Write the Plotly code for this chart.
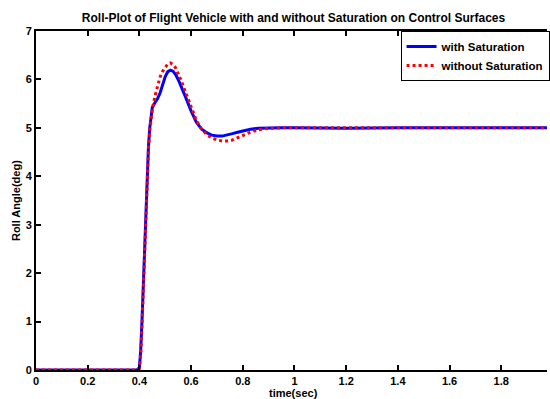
import plotly.graph_objects as go

# time samples (sec)
t_with = [0, 0.39, 0.40, 0.405, 0.41, 0.415, 0.42, 0.425, 0.43, 0.435, 0.44, 0.445,
          0.45, 0.46, 0.47, 0.48, 0.49, 0.50, 0.51, 0.52, 0.53, 0.54, 0.55, 0.56,
          0.58, 0.60, 0.62, 0.64, 0.66, 0.68, 0.70, 0.72, 0.74, 0.76, 0.78, 0.80,
          0.83, 0.86, 0.90, 0.95, 1.0, 1.1, 1.2, 1.4, 1.6, 1.8, 2.0]
roll_with = [0, 0, 0.05, 0.4, 1.0, 1.8, 2.6, 3.4, 4.1, 4.6, 5.0, 5.25,
             5.42, 5.52, 5.6, 5.72, 5.9, 6.06, 6.16, 6.19, 6.17, 6.1, 6.0, 5.88,
             5.62, 5.35, 5.12, 4.98, 4.9, 4.85, 4.83, 4.83, 4.85, 4.88, 4.91, 4.94,
             4.97, 4.99, 5.0, 5.0, 5.0, 4.99, 4.99, 5.0, 5.0, 5.0, 5.0]

t_without = [0, 0.39, 0.40, 0.405, 0.41, 0.415, 0.42, 0.425, 0.43, 0.435, 0.44, 0.445,
             0.45, 0.46, 0.47, 0.48, 0.49, 0.50, 0.51, 0.52, 0.53, 0.54, 0.55, 0.56,
             0.58, 0.60, 0.62, 0.64, 0.66, 0.68, 0.70, 0.72, 0.74, 0.76, 0.78, 0.80,
             0.83, 0.86, 0.90, 0.95, 1.0, 1.1, 1.2, 1.4, 1.6, 1.8, 2.0]
roll_without = [0, 0, 0.03, 0.3, 0.9, 1.7, 2.5, 3.3, 4.0, 4.55, 4.95, 5.2,
                5.38, 5.65, 5.88, 6.05, 6.17, 6.26, 6.32, 6.34, 6.31, 6.24, 6.13, 6.0,
                5.72, 5.42, 5.16, 4.98, 4.86, 4.79, 4.75, 4.73, 4.73, 4.75, 4.8, 4.85,
                4.91, 4.96, 4.99, 5.0, 5.0, 5.0, 5.0, 5.0, 5.0, 5.0, 5.0]

x_ticks = [0, 0.2, 0.4, 0.6, 0.8, 1.0, 1.2, 1.4, 1.6, 1.8]
x_tick_labels = ["<b>0</b>", "<b>0.2</b>", "<b>0.4</b>", "<b>0.6</b>", "<b>0.8</b>",
                 "<b>1</b>", "<b>1.2</b>", "<b>1.4</b>", "<b>1.6</b>", "<b>1.8</b>"]
y_ticks = [0, 1, 2, 3, 4, 5, 6, 7]
y_tick_labels = ["<b>%d</b>" % v for v in y_ticks]

FONT = "Liberation Sans, Arial, sans-serif"

fig = go.Figure()
fig.add_trace(go.Scatter(x=t_with, y=roll_with, mode="lines", name="<b>with Saturation</b>",
                         line=dict(color="#0000ff", width=3)))
fig.add_trace(go.Scatter(x=t_without, y=roll_without, mode="lines",
                         name="<b>without Saturation</b>",
                         line=dict(color="#ff0000", width=3, dash="dot")))

axis_common = dict(showgrid=False, zeroline=False, showline=True, linecolor="black",
                   linewidth=2, ticks="inside", ticklen=5, tickwidth=2, tickcolor="black",
                   automargin=False,
                   tickfont=dict(family=FONT, size=11, color="black"))

fig.update_layout(
    width=550, height=399,
    margin=dict(l=36, r=0, t=31, b=29),
    paper_bgcolor="white", plot_bgcolor="white",
    title=dict(text="<b>Roll-Plot of Flight Vehicle with and without Saturation on Control Surfaces</b>",
               font=dict(family=FONT, size=12, color="black"),
               x=0.504, xref="paper", xanchor="center", y=0.955, yref="container",
               yanchor="middle", automargin=False),
    xaxis=dict(range=[0, 1.977], tickvals=x_ticks, ticktext=x_tick_labels, mirror="ticks",
               **axis_common),
    yaxis=dict(range=[0, 7], tickvals=y_ticks, ticktext=y_tick_labels, mirror=False,
               **axis_common),
    # right-hand tick marks without an axis line (the frame's right edge is cropped)
    yaxis2=dict(range=[0, 7], tickvals=y_ticks, overlaying="y", side="right",
                showgrid=False, zeroline=False, showline=False, showticklabels=False,
                ticks="inside", ticklen=4, tickwidth=2, tickcolor="black", automargin=False),
    legend=dict(x=1.005, xanchor="right", y=1.0, yanchor="top",
                bgcolor="white", bordercolor="black", borderwidth=1,
                font=dict(family=FONT, size=11.5, color="black"),
                tracegroupgap=0, itemwidth=30),
    showlegend=True,
    annotations=[
        dict(text="<b>time(sec)</b>", xref="paper", yref="paper", x=0.504, y=-0.068,
             xanchor="center", yanchor="middle", showarrow=False,
             font=dict(family=FONT, size=11, color="black")),
        dict(text="<b>Roll Angle(deg)</b>", xref="paper", yref="paper", x=-0.04, y=0.5,
             xanchor="center", yanchor="middle", showarrow=False, textangle=-90,
             font=dict(family=FONT, size=11, color="black")),
    ],
)

fig.write_html("out.html", config={"displayModeBar": False},
               post_script="document.body.style.margin='0';")
